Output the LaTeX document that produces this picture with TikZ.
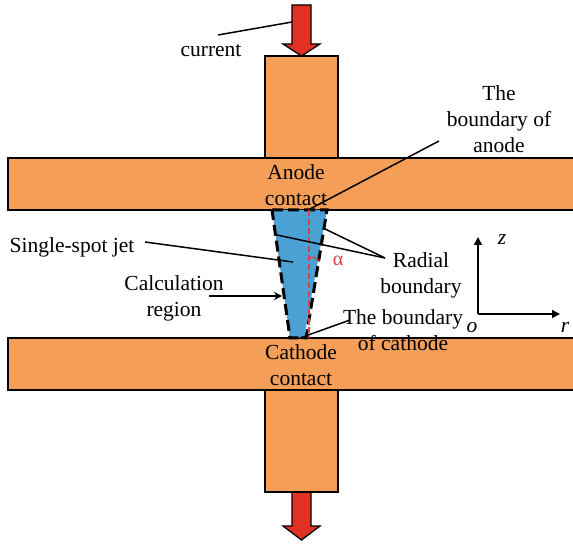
\documentclass[tikz,border=0pt]{standalone}
\usepackage{fontspec}
\setmainfont{Liberation Serif}
\usetikzlibrary{arrows.meta}
\definecolor{plate}{RGB}{244,158,88}
\definecolor{jet}{RGB}{75,160,212}
\definecolor{arrowred}{RGB}{224,50,36}
\definecolor{axisred}{RGB}{226,60,60}
\tikzset{
  x=1pt,y=-1pt,
  platebox/.style={draw=black,line width=1.5pt,fill=plate,inner sep=0pt,outer sep=0pt,anchor=north west},
  bigarrow/.style={draw=black,line width=1.3pt,fill=arrowred,line join=miter},
  leader/.style={draw=black,line width=1.5pt},
  label/.style={font=\fontsize{21.5}{26}\selectfont,align=center,inner sep=0pt,text=black,anchor=base},
  axislabel/.style={font=\fontsize{21.5}{26}\selectfont\itshape,inner sep=0pt,text=black,anchor=base},
  boundary/.style={draw=black,line width=3pt,dash pattern=on 11pt off 5pt},
  axisline/.style={draw=black,line width=1.4pt,-{Triangle[length=8pt,width=8pt]}},
}
\begin{document}
\begin{tikzpicture}
\useasboundingbox (0,0) rectangle (573,545);
\path[fill=white] (0,0) rectangle (573,545);
% arrows
\draw[bigarrow] (292,5)--(311,5)--(311,44)--(320,44)--(301.5,56)--(283,44)--(292,44)--cycle;
\draw[bigarrow] (292,490)--(311,490)--(311,526)--(320,526)--(301.5,540)--(283,526)--(292,526)--cycle;
% plates
\node[platebox,minimum width=73pt,minimum height=102pt] (upper) at (265,56) {};
\node[platebox,minimum width=73pt,minimum height=102pt] (lower) at (265,390) {};
\node[platebox,minimum width=570pt,minimum height=52pt] (anode) at (8,158) {};
\node[platebox,minimum width=570pt,minimum height=52pt] (cathode) at (8,338) {};
% jet
\fill[jet] (272,210)--(327,210)--(304,338)--(290,338)--cycle;
\draw[boundary] (272,210)--(327,210)--(306,338)--(290,338)--cycle;
\draw[axisred,line width=1.8pt,dash pattern=on 6pt off 3pt] (309,210)--(309,338);
\draw[axisred,line width=1.2pt] (308,259) .. controls (312,256) and (316,257) .. (319,261);
\node[label,text=axisred,font=\fontsize{20}{22}\selectfont] (alpha) at (338,266) {α};
% texts
\node[label] (current) at (211,57) {current};
\node[label] (anodeb) at (499,153) {The\\boundary of\\anode};
\node[label] (anodec) at (296,206) {Anode\\contact};
\node[label] (cathc) at (301,385) {Cathode\\contact};
\node[label] (spot) at (72,253) {Single-spot jet};
\node[label] (calc) at (174,317) {Calculation\\region};
\node[label] (radial) at (421,294) {Radial\\boundary};
\node[label] (cathb) at (403,350) {The boundary\\of cathode};
\node[axislabel] (zl) at (502,245) {z};
\node[axislabel] (ol) at (472,333) {o};
\node[axislabel] (rl) at (565,333) {r};
% axes
\coordinate (orig) at (478,314);
\coordinate (ztip) at (478,237);
\coordinate (rtip) at (560,314);
\draw[axisline] (orig)--(ztip);
\draw[axisline] (orig)--(rtip);
% leaders
\coordinate (c1) at (218,35); \coordinate (c2) at (292,22);
\draw[leader] (c1)--(c2);
\coordinate (a1) at (439,141); \coordinate (a2) at (310,209);
\draw[leader] (a1)--(a2);
\coordinate (r0) at (385,258); \coordinate (r1) at (277,235); \coordinate (r2) at (323,228);
\draw[leader] (r0)--(r1); \draw[leader] (r0)--(r2);
\coordinate (s1) at (145,242); \coordinate (s2) at (293,262);
\draw[leader] (s1)--(s2);
\coordinate (k1) at (209,296); \coordinate (k2) at (282,296);
\draw[leader,-{Stealth[length=8pt,width=8pt]}] (k1)--(k2);
\coordinate (b1) at (350,320); \coordinate (b2) at (300,338);
\draw[leader] (b1)--(b2);
\end{tikzpicture}
\end{document}
